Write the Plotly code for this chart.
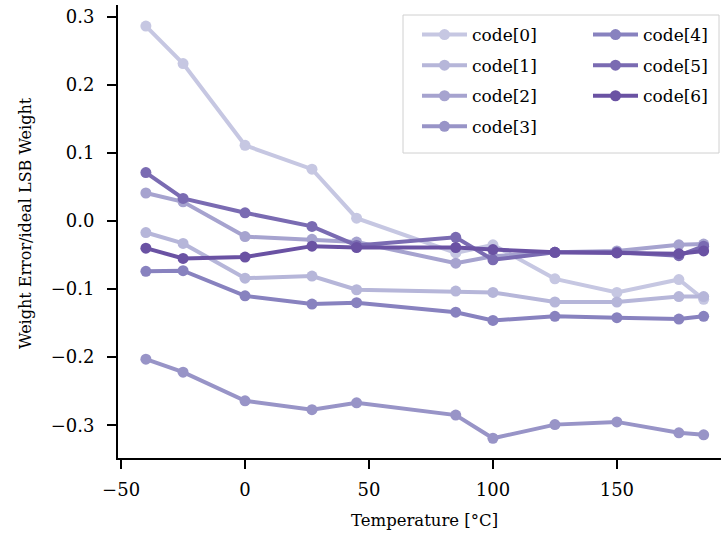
import plotly.graph_objects as go

temperature = [-40, -25, 0, 27, 45, 85, 100, 125, 150, 175, 185]
code0 = [0.286, 0.231, 0.111, 0.076, 0.004, -0.047, -0.035, -0.085, -0.105, -0.086, -0.115]
code1 = [-0.017, -0.033, -0.084, -0.081, -0.101, -0.103, -0.105, -0.119, -0.119, -0.111, -0.111]
code2 = [0.041, 0.028, -0.023, -0.027, -0.031, -0.062, -0.052, -0.046, -0.044, -0.035, -0.034]
code3 = [-0.203, -0.222, -0.264, -0.277, -0.267, -0.285, -0.319, -0.299, -0.295, -0.311, -0.314]
code4 = [-0.074, -0.073, -0.110, -0.122, -0.120, -0.134, -0.146, -0.140, -0.142, -0.144, -0.140]
code5 = [0.071, 0.033, 0.012, -0.008, -0.036, -0.024, -0.057, -0.046, -0.046, -0.051, -0.037]
code6 = [-0.040, -0.055, -0.053, -0.037, -0.039, -0.039, -0.042, -0.046, -0.047, -0.048, -0.044]

series_names = ["code[0]", "code[1]", "code[2]", "code[3]", "code[4]", "code[5]", "code[6]"]
series_values = [code0, code1, code2, code3, code4, code5, code6]
colors = ["#c6c7e2", "#b6b6d9", "#a6a3cf", "#9894c7", "#8882bf", "#7a6bb2", "#6a52a3"]

FONT = "DejaVu Serif"
L, T, PW, PH = 118, 5, 603, 453


def px_x(p):
    return (p - L) / PW


def px_y(p):
    return 1 - (p - T) / PH


fig = go.Figure()
for i, (name, vals, col) in enumerate(zip(series_names, series_values, colors)):
    fig.add_trace(go.Scatter(
        x=temperature, y=vals, name=name, mode="lines+markers",
        line=dict(color=col, width=4),
        marker=dict(color=col, size=11),
        legend="legend" if i < 4 else "legend2",
        legendgroup=name,
    ))

legend_common = dict(
    bgcolor="rgba(0,0,0,0)", borderwidth=0,
    font=dict(family=FONT, size=17, color="black"),
    traceorder="grouped", tracegroupgap=5.5,
    xanchor="left", yanchor="top",
    itemwidth=45,
)

fig.update_layout(
    width=721, height=535,
    margin=dict(l=L, r=721 - L - PW, t=T, b=535 - T - PH),
    paper_bgcolor="white", plot_bgcolor="white",
    showlegend=True,
    legend=dict(x=px_x(417), y=px_y(17), **legend_common),
    legend2=dict(x=px_x(588), y=px_y(17), **legend_common),
    xaxis=dict(
        range=[-51.25, 192.0], showgrid=False, zeroline=False,
        showline=True, linecolor="black", linewidth=2,
        ticks="outside", ticklen=9, tickwidth=1.5, tickcolor="black",
        tickvals=[-50, 0, 50, 100, 150],
        tickfont=dict(family=FONT, size=18, color="black"),
        ticklabelstandoff=5,
    ),
    yaxis=dict(
        range=[-0.348, 0.317], showgrid=False, zeroline=False,
        showline=True, linecolor="black", linewidth=2,
        ticks="outside", ticklen=9, tickwidth=1.5, tickcolor="black",
        tickvals=[-0.3, -0.2, -0.1, 0.0, 0.1, 0.2, 0.3], tickformat=".1f",
        tickfont=dict(family=FONT, size=18, color="black"),
        ticklabelstandoff=9,
    ),
    shapes=[dict(
        type="rect", xref="paper", yref="paper",
        x0=px_x(403), x1=px_x(719), y0=px_y(153), y1=px_y(15),
        line=dict(color="#d0d0d0", width=1), fillcolor="rgba(255,255,255,0.8)",
        layer="above",
    )],
    annotations=[
        dict(text="Temperature [°C]", xref="paper", yref="paper",
             x=px_x(424), y=px_y(520), xanchor="center", yanchor="middle",
             showarrow=False, font=dict(family=FONT, size=16.5, color="black")),
        dict(text="Weight Error/ideal LSB Weight", xref="paper", yref="paper",
             x=px_x(25), y=px_y(223), xanchor="center", yanchor="middle",
             textangle=-90, showarrow=False, font=dict(family=FONT, size=16, color="black")),
    ],
)

fig.write_html("out.html", config={"displayModeBar": False},
               post_script="document.body.style.margin='0';")
